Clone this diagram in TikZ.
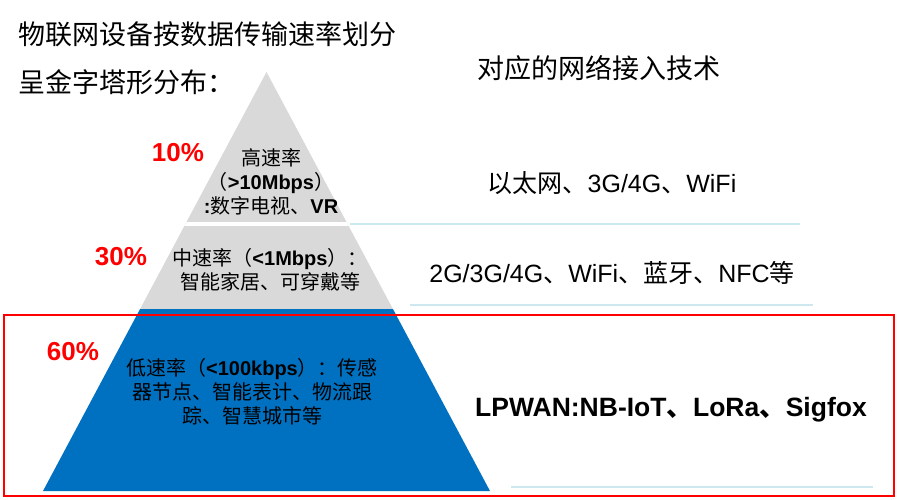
\documentclass[tikz,border=0pt]{standalone}
\usepackage{fontspec}
\setmainfont{Liberation Sans}
\newfontfamily\cjk{Noto Sans CJK SC}
\definecolor{tiergray}{HTML}{D9D9D9}
\definecolor{tierblue}{HTML}{0070C0}
\definecolor{rulecyan}{HTML}{CDE8EE}
\begin{document}
\begin{tikzpicture}[x=1pt,y=-1pt,
  head/.style={anchor=west,inner sep=0pt,font=\cjk\fontsize{27}{32}\selectfont},
  pct/.style={text=red,font=\bfseries\fontsize{26}{30}\selectfont},
  tier/.style={align=center,inner sep=0pt,font=\fontsize{20}{24}\selectfont},
  tech/.style={inner sep=0pt,font=\fontsize{25}{30}\selectfont},
  rule/.style={rulecyan,line width=2pt}]
  \useasboundingbox (0,0) rectangle (897,500);
  \coordinate (apex) at (266.5,72);
  \coordinate (bl) at (43,491);
  \coordinate (br) at (490,491);
  \begin{scope}
    \clip (apex) -- (bl) -- (br) -- cycle;
    \fill[tiergray] (0,60) rectangle (897,309);
    \fill[tierblue] (0,309) rectangle (897,500);
    \draw[white,line width=3.5pt] (0,224) -- (897,224);
  \end{scope}
  \node[head] (title) at (18,34) {物联网设备按数据传输速率划分};
  \node[head] (subtitle) at (18,82) {呈金字塔形分布：};
  \node[head] (techhead) at (477,68) {对应的网络接入技术};
  \node[pct] (p10) at (178,153) {10\%};
  \node[pct] (p30) at (121,257) {30\%};
  \node[pct] (p60) at (73,352) {60\%};
  \node[tier] (high) at (271,182) {{\cjk 高速率}\\{\cjk （}\textbf{>10Mbps}{\cjk ）}\\\textbf{:}{\cjk 数字电视、}\textbf{VR}};
  \node[tier] (mid) at (270,270) {{\cjk 中速率（}\textbf{<1Mbps}{\cjk ）：}\\{\cjk 智能家居、可穿戴等}};
  \node[tier] (low) at (252,392) {{\cjk 低速率（}\textbf{<100kbps}{\cjk ）：传感}\\{\cjk 器节点、智能表计、物流跟}\\{\cjk 踪、智慧城市等}};
  \node[tech] (tech1) at (612,183) {{\cjk 以太网、}3G/4G{\cjk 、}WiFi};
  \node[tech] (tech2) at (612,273) {2G/3G/4G{\cjk 、}WiFi{\cjk 、蓝牙、}NFC{\cjk 等}};
  \node[tech,font=\bfseries\fontsize{26.5}{30}\selectfont] (tech3) at (671,410) {LPWAN:NB-IoT{\cjk 、}LoRa{\cjk 、}Sigfox};
  \draw[rule] (350,224) -- (800,224);
  \draw[rule] (410,305) -- (813,305);
  \draw[rule] (511,487) -- (873,487);
  \draw[red,line width=2.5pt] (4,315) rectangle (894,496);
\end{tikzpicture}
\end{document}
